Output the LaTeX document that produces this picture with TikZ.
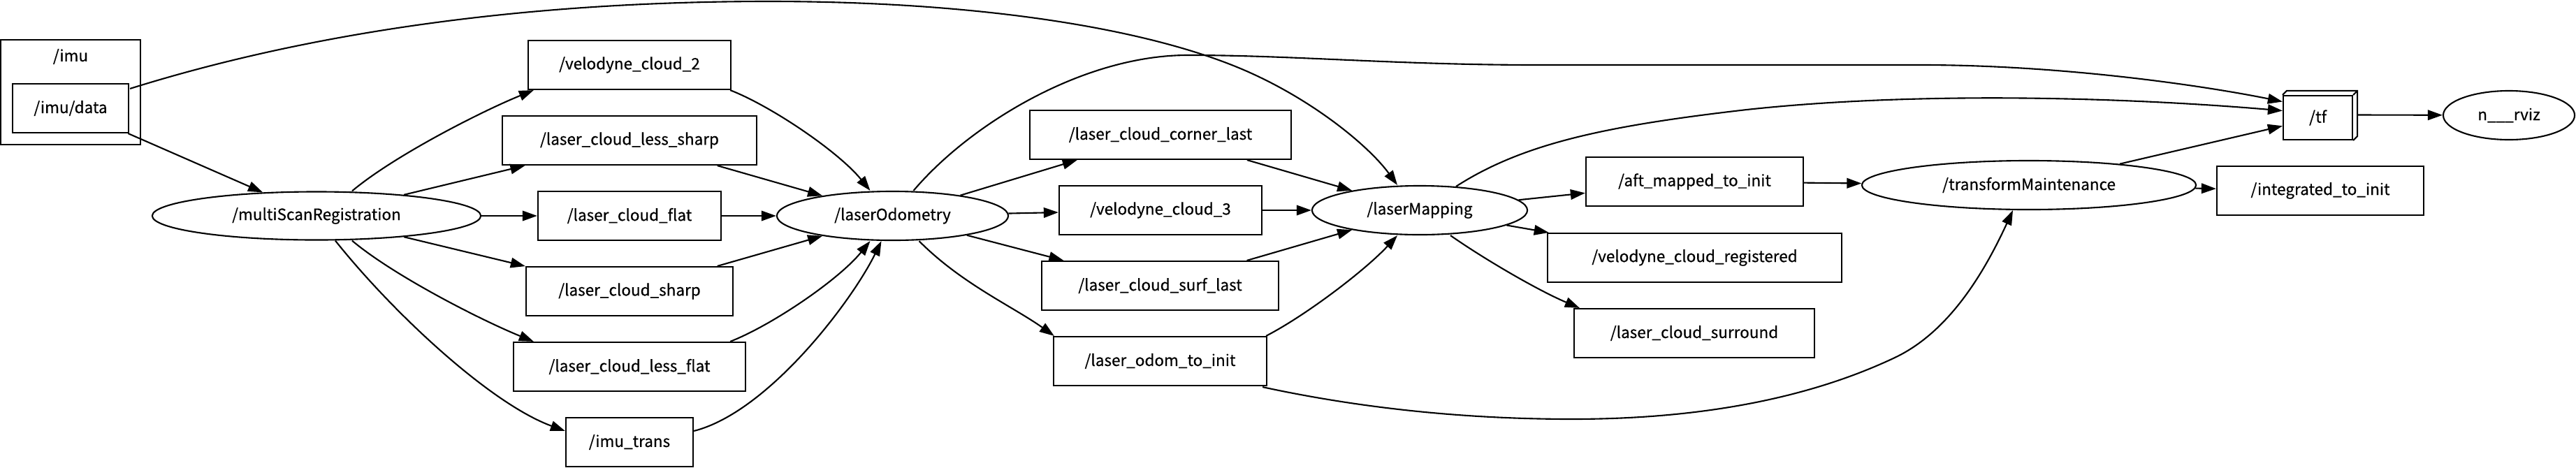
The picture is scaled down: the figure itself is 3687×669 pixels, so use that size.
\documentclass[tikz,border=0pt]{standalone}
\usepackage{fontspec}
\usetikzlibrary{shapes.geometric,arrows.meta,calc}
\newfontfamily\dgfam{Noto Sans CJK SC}[FakeBold=0.5]
\newcommand\dgfont{\dgfam\fontsize{6.4pt}{7.5pt}\selectfont}
\begin{document}
\begin{tikzpicture}[x=0.01cm,y=-0.01cm,
  topic/.style={draw, rectangle, line width=0.6pt, inner sep=0pt, minimum height=0.70cm, font=\dgfont},
  rosnode/.style={draw, ellipse, line width=0.6pt, inner sep=0pt, minimum height=0.70cm, font=\dgfont},
  conn/.style={line width=0.6pt, -{Triangle[length=0.21cm,width=0.145cm]}},
  txt/.style={inner sep=0pt, font=\dgfont}]
\useasboundingbox (0,0) rectangle (3687,669);
% group /imu
\node[draw, line width=0.6pt, minimum width=2.00cm, minimum height=1.50cm] (imu) at (101,132) {};
\node[txt] (imulbl) at (101,81) {/imu};
\node[topic, minimum width=1.66cm] (imud) at (101,155) {/imu/data};
% nodes
\node[rosnode, minimum width=4.70cm, minimum height=0.69cm] (ms) at (453,309) {/multiScanRegistration};
\node[topic, minimum width=2.90cm] (vc2) at (901,93) {/velodyne\_cloud\_2};
\node[topic, minimum width=3.64cm] (ls) at (901,201) {/laser\_cloud\_less\_sharp};
\node[topic, minimum width=2.62cm] (flat) at (901,309) {/laser\_cloud\_flat};
\node[topic, minimum width=2.96cm] (sharp) at (901,417) {/laser\_cloud\_sharp};
\node[topic, minimum width=3.32cm] (lf) at (901,525) {/laser\_cloud\_less\_flat};
\node[topic, minimum width=1.82cm] (it) at (901,633) {/imu\_trans};
\node[rosnode, minimum width=3.31cm] (lo) at (1277.5,309) {/laserOdometry};
\node[topic, minimum width=3.74cm] (cl) at (1661,193) {/laser\_cloud\_corner\_last};
\node[topic, minimum width=2.90cm] (vc3) at (1661,301) {/velodyne\_cloud\_3};
\node[topic, minimum width=3.39cm] (surf) at (1660.5,409) {/laser\_cloud\_surf\_last};
\node[topic, minimum width=3.05cm] (lo2i) at (1660.5,517) {/laser\_odom\_to\_init};
\node[rosnode, minimum width=3.08cm] (lm) at (2032,301) {/laserMapping};
\node[topic, minimum width=3.11cm] (aft) at (2425.5,260) {/aft\_mapped\_to\_init};
\node[topic, minimum width=4.21cm] (vcr) at (2425.5,369) {/velodyne\_cloud\_registered};
\node[topic, minimum width=3.44cm] (sur) at (2425,477) {/laser\_cloud\_surround};
\node[rosnode, minimum width=4.78cm] (tm) at (2904,265) {/transformMaintenance};
\node[topic, minimum width=0.99cm, minimum height=0.63cm] (tf) at (3317.5,168.5) {/tf};
\draw[line width=0.6pt] (tf.north west) -- ++(6,-6) -- ($(tf.north east)+(6,-6)$) -- ($(tf.south east)+(6,-6)$) -- (tf.south east)
  (tf.north east) -- ++(6,-6);
\node[rosnode, minimum width=1.88cm] (rviz) at (3591,165) {n\_\_\_rviz};
\node[topic, minimum width=2.96cm] (integ) at (3321,273) {/integrated\_to\_init};
% straight connectors
\draw[conn] (imud) -- (ms);
\draw[conn] (ms) -- (ls);
\draw[conn] (ms) -- (flat);
\draw[conn] (ms) -- (sharp);
\draw[conn] (ls) -- (lo);
\draw[conn] (flat) -- (lo);
\draw[conn] (sharp) -- (lo);
\draw[conn] (lo) -- (cl);
\draw[conn] (lo) -- (vc3);
\draw[conn] (lo) -- (surf);
\draw[conn] (cl) -- (lm);
\draw[conn] (vc3) -- (lm);
\draw[conn] (surf) -- (lm);
\draw[conn] (lm) -- (aft);
\draw[conn] (lm) -- (vcr);
\draw[conn] (aft) -- (tm);
\draw[conn] (tm) -- (tf);
\draw[conn] (tm) -- (integ);
\draw[conn] ($(tf.east)+(6,-4)$) -- (rviz);
% curved connectors
\draw[conn] ($(imud.north east)+(1,8)$) .. controls (480,35) and (800,2) .. (1100,2)
  .. controls (1400,2) and (1640,40) .. (1780,100)
  .. controls (1880,143) and (1960,210) .. ($(lm.north)+(-32,0)$);
\draw[conn] ($(lo.north)+(30,0)$) .. controls (1388,178) and (1550,79) .. (1700,79)
  .. controls (1850,79) and (2000,93) .. (2200,93) -- (2750,93)
  .. controls (2950,93) and (3151,122) .. ($(tf.west)+(0,-23)$);
\draw[conn] ($(lm.north)+(52,2)$) .. controls (2180,205) and (2300,180) .. (2500,157)
  .. controls (2750,130) and (3050,140) .. ($(tf.west)+(0,-10)$);
\draw[conn] ($(lo2i.south east)+(-7,1)$) .. controls (1950,585) and (2100,600) .. (2250,600)
  .. controls (2450,600) and (2600,565) .. (2712,512)
  .. controls (2790,475) and (2840,390) .. ($(tm.south)+(-23,0)$);
\draw[conn] ($(ms.north)+(51,0)$) .. controls (564,223) and (690,159) .. ($(vc2.south west)+(9,0)$);
\draw[conn] ($(ms.south)+(51,0)$) .. controls (564,395) and (690,459) .. ($(lf.north west)+(30,0)$);
\draw[conn] ($(ms.south)+(27,0)$) .. controls (560,445) and (700,577) .. ($(it.west)+(0,-16)$);
\draw[conn] ($(vc2.south east)+(-2,0)$) .. controls (1104,152) and (1200,217) .. ($(lo.north)+(-32,0)$);
\draw[conn] ($(lf.north east)+(-23,0)$) .. controls (1104,466) and (1200,401) .. ($(lo.south)+(-32,0)$);
\draw[conn] ($(it.east)+(0,-16)$) .. controls (1100,590) and (1220,430) .. ($(lo.south)+(-16,0)$);
\draw[conn] ($(lo.south)+(38,0)$) .. controls (1376,406) and (1450,439) .. ($(lo2i.north west)+(2,0)$);
\draw[conn] ($(lo2i.north east)+(-2,0)$) .. controls (1870,451) and (1955,386) .. ($(lm.south)+(-32,0)$);
\draw[conn] ($(lm.south)+(44,0)$) .. controls (2126,372) and (2202,416) .. ($(sur.north west)+(9,0)$);
\end{tikzpicture}
\end{document}
